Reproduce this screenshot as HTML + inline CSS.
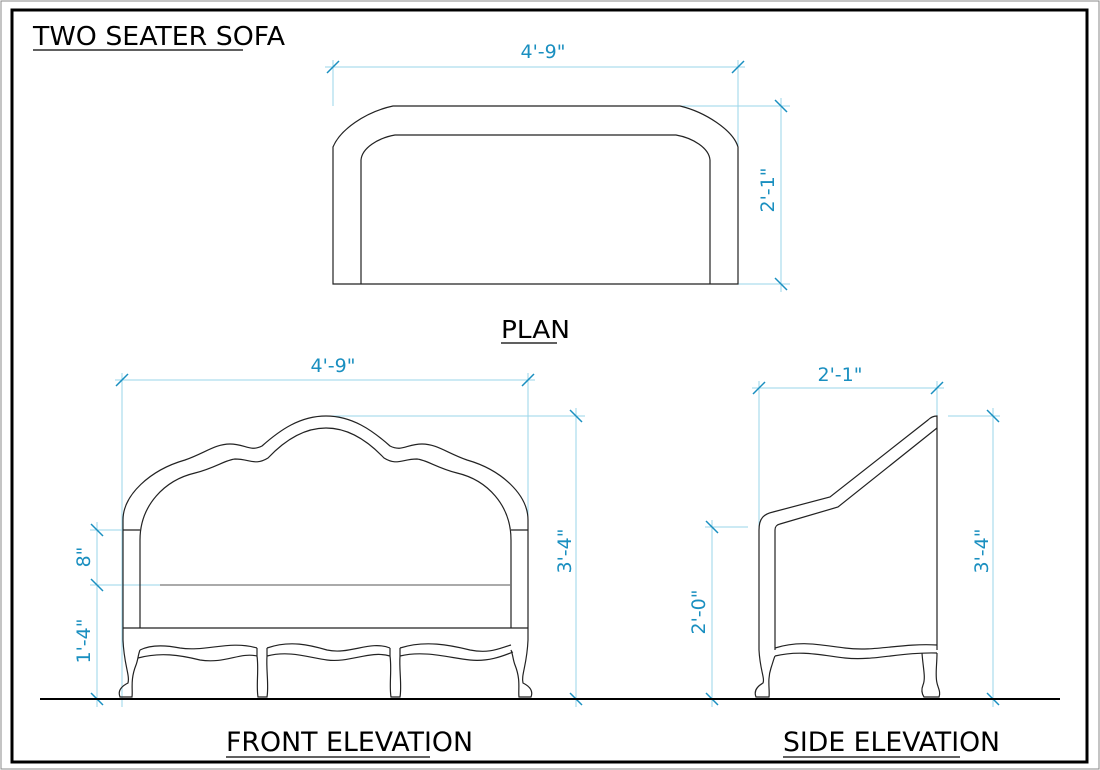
<!DOCTYPE html>
<html><head><meta charset="utf-8"><style>
html,body{margin:0;padding:0;background:#fff}
svg{display:block}
text{font-family:"DejaVu Sans","Liberation Sans",sans-serif}
.d{fill:#1a8fc0;font-size:19px}
.t{fill:#000;font-size:25px}
</style></head><body>
<svg width="1100" height="770" viewBox="0 0 1100 770" xmlns="http://www.w3.org/2000/svg">
<rect x="1" y="1" width="1098" height="768" fill="none" stroke="#888" stroke-width="1"/>
<rect x="12" y="10" width="1075" height="752" fill="none" stroke="#000" stroke-width="3"/>
<text x="33" y="45" class="t" style="font-size:26px" textLength="252" lengthAdjust="spacingAndGlyphs">TWO SEATER SOFA</text>
<line x1="33" y1="50" x2="243" y2="50" stroke="#000" stroke-width="1.2"/>

<g stroke="#9ad6ea" stroke-width="1" fill="none">
<line x1="325" y1="67" x2="745" y2="67"/>
<line x1="333" y1="60" x2="333" y2="106"/>
<line x1="738" y1="60" x2="738" y2="284"/>
<line x1="680" y1="106" x2="790" y2="106"/>
<line x1="738" y1="284" x2="790" y2="284"/>
<line x1="781" y1="98" x2="781" y2="292"/>

<line x1="115" y1="380" x2="535" y2="380"/>
<line x1="122" y1="373" x2="122" y2="707"/>
<line x1="528" y1="373" x2="528" y2="520"/>
<line x1="326" y1="416" x2="585" y2="416"/>
<line x1="576" y1="408" x2="576" y2="707"/>
<line x1="97" y1="522" x2="97" y2="707"/>
<line x1="90" y1="530" x2="123" y2="530"/>
<line x1="90" y1="585" x2="160" y2="585"/>

<line x1="752" y1="388" x2="944" y2="388"/>
<line x1="759" y1="381" x2="759" y2="527"/>
<line x1="937" y1="381" x2="937" y2="416"/>
<line x1="948" y1="416" x2="1000" y2="416"/>
<line x1="993" y1="408" x2="993" y2="707"/>
<line x1="712" y1="520" x2="712" y2="707"/>
<line x1="705" y1="527" x2="748" y2="527"/>
</g>
<g stroke="#1a8fc0" stroke-width="1.5">
<line x1="327" y1="73" x2="339" y2="61"/><line x1="732" y1="73" x2="744" y2="61"/>
<line x1="775" y1="100" x2="787" y2="112"/><line x1="775" y1="278" x2="787" y2="290"/>
<line x1="116" y1="386" x2="128" y2="374"/><line x1="522" y1="386" x2="534" y2="374"/>
<line x1="570" y1="410" x2="582" y2="422"/><line x1="570" y1="693" x2="582" y2="705"/>
<line x1="91" y1="524" x2="103" y2="536"/><line x1="91" y1="579" x2="103" y2="591"/><line x1="91" y1="693" x2="103" y2="705"/>
<line x1="753" y1="394" x2="765" y2="382"/><line x1="931" y1="394" x2="943" y2="382"/>
<line x1="987" y1="410" x2="999" y2="422"/><line x1="987" y1="693" x2="999" y2="705"/>
<line x1="706" y1="521" x2="718" y2="533"/><line x1="706" y1="693" x2="718" y2="705"/>
</g>
<text class="d" x="543" y="58" text-anchor="middle">4'-9"</text>
<text class="d" x="333" y="372" text-anchor="middle">4'-9"</text>
<text class="d" x="840" y="381" text-anchor="middle">2'-1"</text>
<text class="d" text-anchor="middle" transform="translate(774,190) rotate(-90)">2'-1"</text>
<text class="d" text-anchor="middle" transform="translate(571,551) rotate(-90)">3'-4"</text>
<text class="d" text-anchor="middle" transform="translate(988,551) rotate(-90)">3'-4"</text>
<text class="d" text-anchor="middle" transform="translate(90,557) rotate(-90)">8"</text>
<text class="d" text-anchor="middle" transform="translate(90,641) rotate(-90)">1'-4"</text>
<text class="d" text-anchor="middle" transform="translate(705,612) rotate(-90)">2'-0"</text>

<g fill="none" stroke="#222" stroke-width="1.2">
<path d="M333,284 L333,147 C340,130 365,112 393,106 L680,106 C705,112 733,130 738,147 L738,284 Z"/>
<path d="M361,284 L361,160 C362,148 378,138 395,135 L676,135 C693,138 709,148 710,160 L710,284"/>
</g>
<text x="501" y="338" class="t" textLength="69" lengthAdjust="spacingAndGlyphs">PLAN</text>
<line x1="501" y1="343" x2="557" y2="343" stroke="#000" stroke-width="1.2"/>

<g fill="none" stroke="#222" stroke-width="1.2">
<path d="M123,640 L123,520 C123,495 150,470 185,460 C205,453 215,444 230,444 C245,444 250,452 262,446 C280,430 300,416 326,416 C352,416 372,430 390,446 C402,452 407,444 422,444 C437,444 447,453 467,460 C502,470 528,495 528,520 L528,640"/>
<path d="M140,628 L140,540 C140,505 165,480 195,473 C215,468 225,460 235,459 C250,459 255,466 268,458 C285,440 305,428 326,428 C347,428 367,440 384,458 C397,466 402,459 417,459 C427,460 437,468 457,473 C487,480 511,505 511,540 L511,628"/>
<line x1="123" y1="530" x2="140" y2="530"/><line x1="511" y1="530" x2="528" y2="530"/>
<line x1="123" y1="628" x2="528" y2="628"/>
<line x1="160" y1="585" x2="511" y2="585" stroke="#777"/>
<path d="M140,650 C150,645 165,645 180,648 C205,652 230,640 257,648 M267,648 C290,640 310,645 327,650 C350,655 370,640 390,648 M400,648 C425,640 450,645 470,650 C490,654 500,648 511,645"/>
<path d="M138,658 C160,652 180,655 200,660 C225,664 240,652 257,656 M267,656 C290,650 310,658 327,660 C350,663 370,650 390,656 M400,656 C425,650 450,658 470,660 C490,662 505,655 513,652"/>
<path d="M123,640 C124,665 130,675 128,683 C120,687 118,692 120,697 L132,697 C133,690 130,680 136,665 C138,660 138,655 140,650"/>
<path d="M528,640 C527,665 521,675 523,683 C531,687 533,692 531,697 L519,697 C518,690 521,680 515,665 C513,660 513,655 511,650"/>
<path d="M257,648 L257,656 C259,670 256,685 258,697 L267,697 C269,685 266,670 267,656 L267,648"/>
<path d="M390,648 L390,656 C392,670 389,685 391,697 L400,697 C402,685 399,670 400,656 L400,648"/>
</g>
<g fill="none" stroke="#222" stroke-width="1.2">
<path d="M759,650 L759,530 C759,518 764,514 773,512 L830,497 L928,420 C931,417 934,416 937,416 L937,650"/>
<path d="M775,650 L775,530 C775,527 776,525 780,524 L838,507 L937,428"/>
<path d="M775,648 C800,640 820,645 845,648 C875,652 900,643 937,645"/>
<path d="M775,656 C800,650 820,655 845,658 C875,661 900,652 937,653"/>
<path d="M759,650 C760,670 765,678 763,683 C756,687 754,692 756,697 L769,697 C770,690 767,680 771,668 C773,662 774,658 775,656"/>
<path d="M922,653 C923,668 926,678 923,685 C921,690 922,694 924,697 L939,697 C941,692 938,688 937,683 C935,675 937,665 937,653"/>
</g>
<line x1="40" y1="699" x2="1060" y2="699" stroke="#000" stroke-width="2"/>
<text x="226" y="751" class="t" style="font-size:27px" textLength="247" lengthAdjust="spacingAndGlyphs">FRONT ELEVATION</text>
<line x1="226" y1="757" x2="430" y2="757" stroke="#000" stroke-width="1.2"/>
<text x="783" y="751" class="t" style="font-size:27px" textLength="217" lengthAdjust="spacingAndGlyphs">SIDE ELEVATION</text>
<line x1="783" y1="757" x2="960" y2="757" stroke="#000" stroke-width="1.2"/>
</svg>
</body></html>
